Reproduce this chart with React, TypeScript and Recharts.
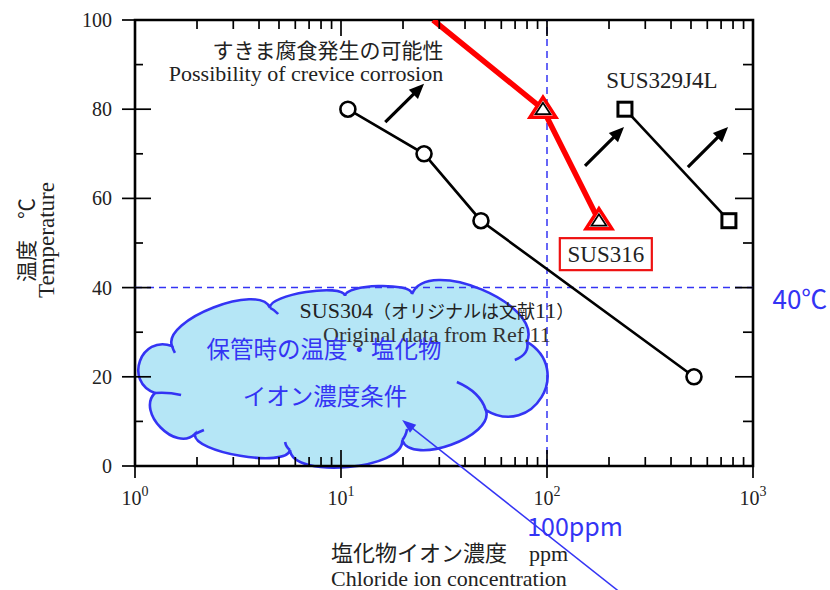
import React from "react";
import {
  ComposedChart,
  Line,
  XAxis,
  YAxis,
  ReferenceLine,
  ReferenceArea,
  ReferenceDot,
  Label,
} from "recharts";

// ---- data ----
const sus304 = [
  { x: 10.8, y: 80 },
  { x: 25.3, y: 70 },
  { x: 47.8, y: 55 },
  { x: 517, y: 20 },
];
const sus316 = [
  { x: 28, y: 100 },
  { x: 95.6, y: 80 },
  { x: 178.7, y: 55 },
];
const sus329j4l = [
  { x: 239, y: 80 },
  { x: 764, y: 55 },
];

const xTicks = [
  1, 2, 3, 4, 5, 6, 7, 8, 9,
  10, 20, 30, 40, 50, 60, 70, 80, 90,
  100, 200, 300, 400, 500, 600, 700, 800, 900,
  1000,
];
const yTicks = [0, 10, 20, 30, 40, 50, 60, 70, 80, 90, 100];
const yLabelTicks = [0, 20, 40, 60, 80, 100];

const limitTemp = 40;
const limitChloride = 100;

// "crevice corrosion possible" direction arrows: [x1, y1, x2, y2]
const trendArrows = [
  [16.4, 77.1, 25.3, 85.7],
  [152.9, 67.3, 236.6, 76.0],
  [483, 67.0, 757, 76.0],
];
// arrow from the "100ppm" note into the storage-condition cloud
const storageArrow = [226, -28.3, 19.8, 10.3];
// storage-condition region (cloud)
const storageRegion = { x1: 1.0226, x2: 97.8, y1: 0, y2: 40.1 };

// ---- layout ----
const W = 830;
const H = 590;
const M = { top: 20, right: 77, bottom: 123, left: 134 };
const PLOT_W = 618;
const PLOT_H = 446;

const SERIF = '"Liberation Serif", "Times New Roman", "Noto Sans CJK JP", serif';
const JP = '"Noto Sans CJK JP", sans-serif';
const INK = "#222";
const BLUE = "#3434f4";

// cloud outline: junction points (fraction of box) and bulge of the lobe that follows (fraction of box height)
const CLOUD_LOBES: [number, number, number][] = [
  [0.0858, 0.329, 0.117],
  [0.326, 0.116, 0.056],
  [0.51, 0.049, 0.05],
  [0.674, 0.038, 0.173],
  [0.956, 0.306, 0.229],
  [0.855, 0.687, 0.117],
  [0.65, 0.855, 0.123],
  [0.375, 0.911, 0.078],
  [0.142, 0.821, 0.112],
  [0.044, 0.592, 0.14],
];
// short inner strokes where lobes overlap
const CLOUD_INNER: number[][] = [
  [0.326, 0.116, 0.338, 0.128, 0.346, 0.15],
  [0.0858, 0.329, 0.088, 0.346, 0.093, 0.368],
  [0.956, 0.306, 0.963, 0.374, 0.926, 0.407],
  [0.855, 0.687, 0.841, 0.586, 0.784, 0.53],
  [0.375, 0.911, 0.365, 0.894, 0.363, 0.866],
  [0.142, 0.821, 0.152, 0.81, 0.164, 0.799],
  [0.044, 0.592, 0.076, 0.586, 0.108, 0.603],
  [0.65, 0.855, 0.659, 0.832, 0.662, 0.793],
];

const renderCloud = (p: any) => {
  const { x: bx, y: by, width: bw, height: bh } = p;
  const pts = CLOUD_LOBES.map(([u, v, s]) => ({ x: bx + u * bw, y: by + v * bh, s: s * bh }));
  const cx = bx + bw / 2;
  const cy = by + bh / 2;
  let d = `M${pts[0].x},${pts[0].y}`;
  pts.forEach((a, i) => {
    const b = pts[(i + 1) % pts.length];
    const dx = b.x - a.x;
    const dy = b.y - a.y;
    const len = Math.hypot(dx, dy);
    let nx = dy / len;
    let ny = -dx / len;
    const mx = (a.x + b.x) / 2;
    const my = (a.y + b.y) / 2;
    if ((mx - cx) * nx + (my - cy) * ny < 0) {
      nx = -nx;
      ny = -ny;
    }
    const h = a.s / 0.75;
    d += ` C${a.x + nx * h},${a.y + ny * h} ${b.x + nx * h},${b.y + ny * h} ${b.x},${b.y}`;
  });
  d += " Z";
  return (
    <g>
      <path d={d} fill="#5ac8ea" fillOpacity={0.45} stroke="none" />
      <path d={d} fill="none" stroke={BLUE} strokeWidth={2.6} />
      {CLOUD_INNER.map((c, i) => (
        <path
          key={i}
          d={`M${bx + c[0] * bw},${by + c[1] * bh} Q${bx + c[2] * bw},${by + c[3] * bh} ${bx + c[4] * bw},${by + c[5] * bh}`}
          fill="none"
          stroke={BLUE}
          strokeWidth={2.6}
        />
      ))}
    </g>
  );
};

const arrowShape =
  (color: string, width: number, headLen: number, headHalf: number) => (p: any) => {
    const { x1, y1, x2, y2 } = p;
    const a = Math.atan2(y2 - y1, x2 - x1);
    const c = Math.cos(a);
    const s = Math.sin(a);
    const bx = x2 - headLen * c;
    const by = y2 - headLen * s;
    return (
      <g>
        <line x1={x1} y1={y1} x2={bx + c} y2={by + s} stroke={color} strokeWidth={width} />
        <polygon
          points={`${x2},${y2} ${bx - headHalf * s},${by + headHalf * c} ${bx + headHalf * s},${by - headHalf * c}`}
          fill={color}
        />
      </g>
    );
  };

// text annotation anchored at a data point
const note = (key: string, x: number, y: number, node: React.ReactNode) => (
  <ReferenceDot
    key={key}
    x={x}
    y={y}
    r={0}
    ifOverflow="visible"
    shape={(p: any) => <g transform={`translate(${p.cx},${p.cy})`}>{node}</g>}
  />
);

const XTick = (p: any) => {
  const { x, y, payload } = p;
  const e = Math.log10(payload.value);
  const major = Math.abs(e - Math.round(e)) < 1e-6;
  const top = y - PLOT_H;
  return (
    <g>
      <line x1={x} x2={x} y1={major ? y - 16 : y - 9} y2={major ? y + 12 : y} stroke="#000" strokeWidth={1.7} />
      <line x1={x} x2={x} y1={top} y2={top + (major ? 16 : 9)} stroke="#000" strokeWidth={1.7} />
      {major && (
        <text x={x} y={y + 39} textAnchor="middle" fontFamily={SERIF} fontSize={20} fill={INK}>
          10
          <tspan dy={-9} fontSize={14}>
            {Math.round(e)}
          </tspan>
        </text>
      )}
    </g>
  );
};

const YTick = (p: any) => {
  const { x, y, payload } = p;
  const v = payload.value;
  const major = yLabelTicks.includes(v);
  const right = x + PLOT_W;
  return (
    <g>
      <line x1={major ? x - 13 : x} x2={x + (major ? 16 : 8)} y1={y} y2={y} stroke="#000" strokeWidth={1.7} />
      <line x1={right - (major ? 18 : 10)} x2={right} y1={y} y2={y} stroke="#000" strokeWidth={1.7} />
      {major && (
        <text x={x - 23} y={y + 7} textAnchor="end" fontFamily={SERIF} fontSize={20} fill={INK}>
          {v}
        </text>
      )}
    </g>
  );
};

const circleDot = (p: any) => (
  <circle key={`c-${p.index}`} cx={p.cx} cy={p.cy} r={7.5} fill="#fff" stroke="#000" strokeWidth={2.6} />
);
const squareDot = (p: any) => (
  <rect key={`s-${p.index}`} x={p.cx - 7} y={p.cy - 7} width={14} height={14} fill="#fff" stroke="#000" strokeWidth={3} />
);
const triangleDot = (p: any) => {
  if (p.index === 0) return <g key="t-0" />;
  const { cx, cy } = p;
  return (
    <g key={`t-${p.index}`}>
      <polygon points={`${cx},${cy - 12} ${cx - 13},${cy + 8} ${cx + 13},${cy + 8}`} fill="#fff" stroke="#ff0000" strokeWidth={3.4} strokeLinejoin="miter" />
      <polygon points={`${cx},${cy - 6.5} ${cx - 7.5},${cy + 5} ${cx + 7.5},${cy + 5}`} fill="#fff" stroke="#000" strokeWidth={1.7} />
    </g>
  );
};

const XTitle = (props: any) => {
  const vb = props.viewBox;
  const x0 = vb.x + 196;
  return (
    <g>
      <text x={x0} y={vb.y + 95} fontFamily={SERIF} fontSize={22} fill={INK}>
        <tspan fontFamily={JP}>塩化物イオン濃度　</tspan>
        <tspan>ppm</tspan>
      </text>
      <text x={x0} y={vb.y + 120} fontFamily={SERIF} fontSize={22} fill={INK}>
        Chloride ion concentration
      </text>
    </g>
  );
};

const YTitle = (props: any) => {
  const vb = props.viewBox;
  const cy = vb.y + 220;
  const xr = vb.x + vb.width;
  return (
    <g>
      <text
        x={xr - 110}
        y={cy}
        transform={`rotate(-90 ${xr - 110} ${cy})`}
        textAnchor="middle"
        dominantBaseline="central"
        fontFamily={JP}
        fontSize={21}
        fill={INK}
      >
        温度　℃
      </text>
      <text
        x={xr - 89}
        y={cy}
        transform={`rotate(-90 ${xr - 89} ${cy})`}
        textAnchor="middle"
        dominantBaseline="central"
        fontFamily={SERIF}
        fontSize={23}
        fill={INK}
      >
        Temperature
      </text>
    </g>
  );
};

const mid = { textAnchor: "middle" as const, dominantBaseline: "central" as const };

export default function App() {
  return (
    <div style={{ position: "absolute", left: 0, top: 0, width: W, height: H, background: "#fff" }}>
      <ComposedChart width={W} height={H} margin={M}>
        <XAxis
          type="number"
          dataKey="x"
          scale="log"
          domain={[1, 1000]}
          allowDataOverflow
          ticks={xTicks}
          interval={0}
          tick={<XTick />}
          tickLine={false}
          axisLine={false}
          tickSize={0}
          tickMargin={0}
          height={1}
        >
          <Label content={<XTitle />} />
        </XAxis>
        <YAxis
          type="number"
          dataKey="y"
          domain={[0, 100]}
          allowDataOverflow
          ticks={yTicks}
          interval={0}
          tick={<YTick />}
          tickLine={false}
          axisLine={false}
          tickSize={0}
          tickMargin={0}
          width={1}
        >
          <Label content={<YTitle />} />
        </YAxis>

        <ReferenceLine y={limitTemp} stroke={BLUE} strokeWidth={1.5} strokeDasharray="7 5" />
        <ReferenceLine x={limitChloride} stroke={BLUE} strokeWidth={1.5} strokeDasharray="7 5" />

        <Line
          data={sus304}
          dataKey="y"
          type="linear"
          stroke="#000"
          strokeWidth={2.6}
          dot={circleDot}
          activeDot={false}
          isAnimationActive={false}
        />
        <Line
          data={sus329j4l}
          dataKey="y"
          type="linear"
          stroke="#000"
          strokeWidth={2.6}
          dot={squareDot}
          activeDot={false}
          isAnimationActive={false}
        />
        <Line
          data={sus316}
          dataKey="y"
          type="linear"
          stroke="#ff0000"
          strokeWidth={5.5}
          dot={triangleDot}
          activeDot={false}
          isAnimationActive={false}
        />

        {trendArrows.map((a, i) => (
          <ReferenceLine
            key={`ta-${i}`}
            segment={[
              { x: a[0], y: a[1] },
              { x: a[2], y: a[3] },
            ]}
            ifOverflow="visible"
            shape={arrowShape("#000", 3.2, 15, 6.5)}
          />
        ))}

        {note(
          "n-jp",
          8.65,
          93.6,
          <text {...mid} fontFamily={JP} fontSize={21} fill={INK}>
            すきま腐食発生の可能性
          </text>
        )}
        {note(
          "n-en",
          6.76,
          87.9,
          <text {...mid} fontFamily={SERIF} fontSize={22} fill={INK}>
            Possibility of crevice corrosion
          </text>
        )}
        {note(
          "n-329",
          361,
          86.5,
          <text {...mid} fontFamily={SERIF} fontSize={23} fill={INK}>
            SUS329J4L
          </text>
        )}
        {note(
          "n-316",
          193,
          47.5,
          <g>
            <rect x={-46} y={-16} width={92} height={32} fill="#fff" stroke="#ee1111" strokeWidth={2.2} />
            <text {...mid} fontFamily={SERIF} fontSize={23} fill={INK}>
              SUS316
            </text>
          </g>
        )}
        {note(
          "n-304",
          29.2,
          35.0,
          <text {...mid} fontFamily={SERIF} fontSize={22} fill={INK}>
            <tspan>SUS304</tspan>
            <tspan fontFamily={JP} fontSize={18}>（オリジナルは文献</tspan>
            <tspan>11</tspan>
            <tspan fontFamily={JP} fontSize={18}>）</tspan>
          </text>
        )}
        {note(
          "n-ref",
          29.2,
          29.4,
          <text {...mid} fontFamily={SERIF} fontSize={22} fill="#333">
            Original data from Ref.11
          </text>
        )}

        <ReferenceArea
          x1={storageRegion.x1}
          x2={storageRegion.x2}
          y1={storageRegion.y1}
          y2={storageRegion.y2}
          ifOverflow="visible"
          shape={renderCloud}
        />

        <ReferenceArea x1={1} x2={1000} y1={0} y2={100} fill="none" stroke="#000" strokeWidth={2.6} />

        {note(
          "n-cloud1",
          8.27,
          26.5,
          <text {...mid} fontFamily={JP} fontSize={23.5} fill={BLUE}>
            保管時の温度・塩化物
          </text>
        )}
        {note(
          "n-cloud2",
          8.36,
          15.9,
          <text {...mid} fontFamily={JP} fontSize={23.5} fill={BLUE}>
            イオン濃度条件
          </text>
        )}

        <ReferenceLine
          segment={[
            { x: storageArrow[0], y: storageArrow[1] },
            { x: storageArrow[2], y: storageArrow[3] },
          ]}
          ifOverflow="visible"
          shape={arrowShape(BLUE, 1.5, 14, 5)}
        />

        {note(
          "n-40",
          1690,
          37.7,
          <text {...mid} fontFamily={JP} fontSize={26} fill={BLUE}>
            40℃
          </text>
        )}
        {note(
          "n-100",
          136.8,
          -13.2,
          <text {...mid} fontFamily={JP} fontSize={25} fill={BLUE}>
            100ppm
          </text>
        )}
      </ComposedChart>
    </div>
  );
}
